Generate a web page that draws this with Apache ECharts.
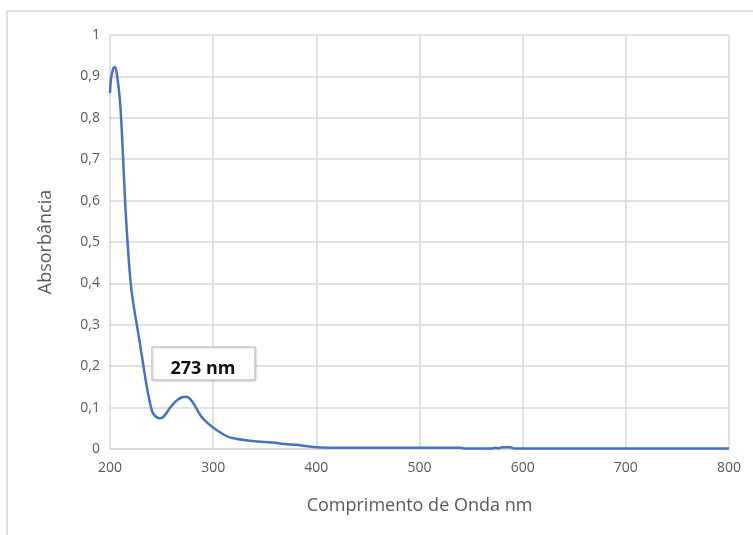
<!DOCTYPE html>
<html>
<head>
<meta charset="utf-8">
<script src="https://cdn.jsdelivr.net/npm/echarts@6/dist/echarts.min.js"></script>
<style>
  html, body { margin: 0; padding: 0; background: #fff; }
  #chart { width: 753px; height: 535px; }
</style>
</head>
<body>
<div id="chart"></div>
<script>
// wavelength (nm) and absorbance
const wavelength = [200, 201, 203, 204.5, 206, 208, 210, 212, 213.5, 215, 217, 219, 221, 223, 226, 229, 232, 235, 238, 241, 244, 248, 252, 256, 260, 265, 270, 274, 278, 282, 286, 290, 295, 300, 305, 310, 316, 322, 330, 340, 350, 360, 370, 380, 390, 400, 420, 440, 460, 480, 500, 520, 540, 545, 560, 570, 573, 576, 580, 588, 592, 600, 650, 700, 750, 800];
const absorbance = [0.86, 0.895, 0.918, 0.923, 0.915, 0.88, 0.83, 0.74, 0.66, 0.58, 0.5, 0.43, 0.38, 0.345, 0.3, 0.255, 0.207, 0.16, 0.12, 0.09, 0.079, 0.074, 0.078, 0.092, 0.105, 0.118, 0.125, 0.126, 0.12, 0.106, 0.088, 0.074, 0.062, 0.052, 0.043, 0.035, 0.028, 0.025, 0.022, 0.019, 0.017, 0.015, 0.012, 0.01, 0.007, 0.004, 0.003, 0.003, 0.003, 0.003, 0.003, 0.003, 0.003, 0.001, 0.001, 0.001, 0.003, 0.0015, 0.004, 0.004, 0.001, 0.001, 0.001, 0.001, 0.001, 0.001];
const peakLabel = '273 nm';
const peakBox = [240.5, 0.247]; // top-left corner of the callout, in data units

const FONT = "'Open Sans', sans-serif";
const TEXT = '#595959';
const GRID = '#d9d9d9';

const chart = echarts.init(document.getElementById('chart'));

const fmt = v => (v === 0 || v === 1) ? String(v) : v.toFixed(1).replace('.', ',');

const frame = {
  type: 'rect',
  silent: true,
  shape: { x: 7, y: 11, width: 760, height: 540 },
  style: { fill: 'none', stroke: GRID, lineWidth: 1.5 }
};

chart.setOption({
  animation: false,
  grid: { left: 110, right: 24, top: 35, bottom: 86 },
  xAxis: {
    type: 'value',
    min: 200, max: 800, interval: 100,
    name: 'Comprimento de Onda nm',
    nameLocation: 'middle',
    nameGap: 48,
    nameTextStyle: { color: TEXT, fontFamily: FONT, fontSize: 18 },
    axisLine: { show: true, lineStyle: { color: GRID, width: 1.5 } },
    axisTick: { show: false },
    axisLabel: { color: TEXT, fontFamily: FONT, fontSize: 14, margin: 12 },
    splitLine: { show: true, lineStyle: { color: GRID, width: 1.5 } }
  },
  yAxis: {
    type: 'value',
    min: 0, max: 1, interval: 0.1,
    name: 'Absorbância',
    nameLocation: 'middle',
    nameGap: 55,
    nameTextStyle: { color: TEXT, fontFamily: FONT, fontSize: 18 },
    axisLine: { show: false },
    axisTick: { show: false },
    axisLabel: { color: TEXT, fontFamily: FONT, fontSize: 14, margin: 10, formatter: fmt },
    splitLine: { show: true, lineStyle: { color: GRID, width: 1.5 } }
  },
  series: [{
    type: 'line',
    data: wavelength.map((w, i) => [w, absorbance[i]]),
    smooth: 0.3,
    showSymbol: false,
    lineStyle: { color: '#4472c4', width: 2.5 },
    itemStyle: { color: '#4472c4' }
  }],
  graphic: [frame]
});

// callout box for the second peak
const [bx, by] = chart.convertToPixel({ gridIndex: 0 }, peakBox);
chart.setOption({
  graphic: [frame, {
    type: 'group',
    z: 100,
    x: Math.round(bx), y: Math.round(by),
    children: [{
      type: 'rect',
      z: 100,
      shape: { x: 0, y: 0, width: 103, height: 33 },
      style: {
        fill: '#fff', stroke: '#c8c8c8', lineWidth: 1.5,
        shadowColor: 'rgba(0,0,0,0.12)', shadowBlur: 2, shadowOffsetX: 1, shadowOffsetY: 1
      }
    }, {
      type: 'text',
      z: 101,
      x: 51, y: 22,
      style: {
        text: peakLabel, fill: '#111', fontFamily: FONT, fontWeight: 'bold',
        fontSize: 18, align: 'center', verticalAlign: 'middle'
      }
    }]
  }]
});
</script>
</body>
</html>
